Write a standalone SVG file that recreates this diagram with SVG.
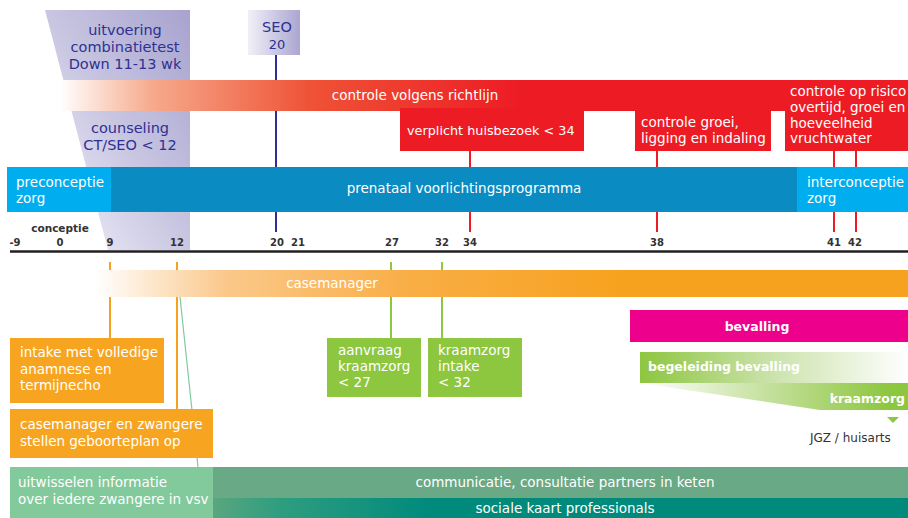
<svg xmlns="http://www.w3.org/2000/svg" width="908" height="518" viewBox="0 0 908 518">
<defs>
<linearGradient id="gPurple" x1="0" y1="1" x2="1" y2="0">
<stop offset="0" stop-color="#f4f3fa"/>
<stop offset="0.5" stop-color="#c9c6e2"/>
<stop offset="1" stop-color="#a7a3cf"/>
</linearGradient>
<linearGradient id="gSeo" x1="0" y1="0" x2="1" y2="0">
<stop offset="0" stop-color="#f1f0f8"/>
<stop offset="1" stop-color="#aaa6d0"/>
</linearGradient>
<linearGradient id="gRed" gradientUnits="userSpaceOnUse" x1="60" y1="0" x2="520" y2="0">
<stop offset="0" stop-color="#ffffff"/>
<stop offset="0.2" stop-color="#f6aa8c"/>
<stop offset="0.54" stop-color="#ef5337"/>
<stop offset="1" stop-color="#ed1c24"/>
</linearGradient>
<linearGradient id="gOrange" gradientUnits="userSpaceOnUse" x1="95" y1="0" x2="620" y2="0">
<stop offset="0" stop-color="#ffffff"/>
<stop offset="0.25" stop-color="#fbc88a"/>
<stop offset="0.6" stop-color="#f9ae45"/>
<stop offset="1" stop-color="#f7a21f"/>
</linearGradient>
<linearGradient id="gBeg" gradientUnits="userSpaceOnUse" x1="640" y1="0" x2="908" y2="0">
<stop offset="0" stop-color="#8dc63f"/>
<stop offset="0.5" stop-color="#cce3ad"/>
<stop offset="1" stop-color="#ffffff"/>
</linearGradient>
<linearGradient id="gKraam" gradientUnits="userSpaceOnUse" x1="640" y1="0" x2="890" y2="0">
<stop offset="0" stop-color="#ffffff"/>
<stop offset="0.5" stop-color="#c6e19f"/>
<stop offset="1" stop-color="#8dc63f"/>
</linearGradient>
<linearGradient id="gTeal" gradientUnits="userSpaceOnUse" x1="213" y1="0" x2="430" y2="0">
<stop offset="0" stop-color="#5aa67f"/>
<stop offset="0.3" stop-color="#2f9e7f"/>
<stop offset="1" stop-color="#008a7c"/>
</linearGradient>
<style>
text{font-family:"DejaVu Sans","Noto Sans",sans-serif;}
.w{fill:#ffffff;font-size:13.5px;}
.p{fill:#2e3192;font-size:14.5px;}
.ax{fill:#333333;font-size:10px;font-weight:bold;text-anchor:middle;}
.b{fill:#ffffff;font-size:12.5px;font-weight:bold;}
.red{stroke:#ed1c24;stroke-width:2;}
.or{stroke:#f7a21f;stroke-width:2;}
.gr{stroke:#8dc63f;stroke-width:2;}
</style>
</defs>

<g id="combinatietest">
<polygon points="45,10 190,10 190,250 108,250" fill="url(#gPurple)"/>
<text class="p" text-anchor="middle" x="125" y="35">uitvoering</text>
<text class="p" text-anchor="middle" x="125" y="52">combinatietest</text>
<text class="p" text-anchor="middle" x="125" y="69">Down 11-13 wk</text>
</g>

<g id="seo">
<rect x="248" y="10" width="52" height="45" fill="url(#gSeo)"/>
<text class="p" text-anchor="middle" x="277" y="32">SEO</text>
<text class="p" text-anchor="middle" x="277" y="49" style="font-size:13px">20</text>
</g>

<g id="connectors">
<line x1="276" y1="55" x2="276" y2="232" stroke="#2e3192" stroke-width="2"/>
<line class="red" x1="470" y1="150" x2="470" y2="168"/>
<line class="red" x1="470" y1="211" x2="470" y2="232"/>
<line class="red" x1="657" y1="150" x2="657" y2="168"/>
<line class="red" x1="657" y1="211" x2="657" y2="232"/>
<line class="red" x1="834" y1="150" x2="834" y2="168"/>
<line class="red" x1="834" y1="211" x2="834" y2="232"/>
<line class="red" x1="856" y1="150" x2="856" y2="168"/>
<line class="red" x1="856" y1="211" x2="856" y2="232"/>
<line class="or" x1="110" y1="262" x2="110" y2="338"/>
<line class="or" x1="177" y1="262" x2="177" y2="409"/>
<line x1="180" y1="297" x2="198" y2="467" stroke="#7fcb9c" stroke-width="1.2"/>
<line class="gr" x1="391" y1="262" x2="391" y2="338"/>
<line class="gr" x1="442" y1="262" x2="442" y2="338"/>
<line x1="10" y1="251.5" x2="908" y2="251.5" stroke="#231f20" stroke-width="2.5"/>
</g>

<g id="controle-richtlijn">
<rect x="60" y="80" width="848" height="31" fill="url(#gRed)"/>
<text class="w" text-anchor="middle" x="415" y="100">controle volgens richtlijn</text>
</g>

<g id="counseling">
<text class="p" text-anchor="middle" x="130" y="133">counseling</text>
<text class="p" text-anchor="middle" x="130" y="150">CT/SEO &lt; 12</text>
</g>

<g id="huisbezoek">
<rect x="400" y="108" width="184" height="43" fill="#ed1c24"/>
<text class="w" x="407" y="135" style="font-size:12.8px">verplicht huisbezoek &lt; 34</text>
</g>

<g id="controle-groei">
<rect x="635" y="110" width="136" height="41" fill="#ed1c24"/>
<text class="w" x="641" y="127">controle groei,</text>
<text class="w" x="641" y="143">ligging en indaling</text>
</g>

<g id="controle-risico">
<rect x="785" y="80" width="123" height="71" fill="#ed1c24"/>
<text class="w" x="790" y="96">controle op risico</text>
<text class="w" x="790" y="111.8">overtijd, groei en</text>
<text class="w" x="790" y="127.6">hoeveelheid</text>
<text class="w" x="790" y="143.4">vruchtwater</text>
</g>

<g id="voorlichting">
<rect x="7" y="167" width="104" height="45" fill="#00aeef"/>
<rect x="111" y="167" width="686" height="45" fill="#0a8bc2"/>
<rect x="797" y="167" width="111" height="45" fill="#00aeef"/>
<text class="w" x="16" y="187">preconceptie</text>
<text class="w" x="16" y="203">zorg</text>
<text class="w" text-anchor="middle" x="464" y="193">prenataal voorlichtingsprogramma</text>
<text class="w" x="807" y="187">interconceptie</text>
<text class="w" x="807" y="203">zorg</text>
</g>

<g id="axis">
<text class="ax" x="60" y="232" style="font-size:10.5px">conceptie</text>
<text class="ax" x="15" y="246">-9</text>
<text class="ax" x="60" y="246">0</text>
<text class="ax" x="110" y="246">9</text>
<text class="ax" x="177" y="246">12</text>
<text class="ax" x="277" y="246">20</text>
<text class="ax" x="298" y="246">21</text>
<text class="ax" x="392" y="246">27</text>
<text class="ax" x="442" y="246">32</text>
<text class="ax" x="470" y="246">34</text>
<text class="ax" x="657" y="246">38</text>
<text class="ax" x="834" y="246">41</text>
<text class="ax" x="855" y="246">42</text>
</g>

<g id="casemanager">
<rect x="95" y="270" width="813" height="27" fill="url(#gOrange)"/>
<text class="w" text-anchor="middle" x="332" y="288">casemanager</text>
</g>

<g id="intake">
<rect x="10" y="338" width="154" height="65" fill="#f7a520"/>
<text class="w" x="20" y="357">intake met volledige</text>
<text class="w" x="20" y="373.5">anamnese en</text>
<text class="w" x="20" y="390">termijnecho</text>
</g>

<g id="geboorteplan">
<rect x="10" y="409" width="203" height="49" fill="#f7a520"/>
<text class="w" x="20" y="429">casemanager en zwangere</text>
<text class="w" x="20" y="446">stellen geboorteplan op</text>
</g>

<g id="aanvraag-kraamzorg">
<rect x="327" y="338" width="94" height="59" fill="#8dc63f"/>
<text class="w" x="338" y="355">aanvraag</text>
<text class="w" x="338" y="371">kraamzorg</text>
<text class="w" x="338" y="387">&lt; 27</text>
</g>

<g id="kraamzorg-intake">
<rect x="428" y="338" width="94" height="59" fill="#8dc63f"/>
<text class="w" x="438" y="355">kraamzorg</text>
<text class="w" x="438" y="371">intake</text>
<text class="w" x="438" y="387">&lt; 32</text>
</g>

<g id="bevalling">
<rect x="630" y="310" width="278" height="32" fill="#ec008c"/>
<text class="b" text-anchor="middle" x="757" y="331">bevalling</text>
</g>

<g id="begeleiding">
<rect x="640" y="352" width="268" height="31" fill="url(#gBeg)"/>
<text class="b" x="648" y="371">begeleiding bevalling</text>
</g>

<g id="kraamzorg">
<polygon points="640,383 908,383 908,410 820,410" fill="url(#gKraam)"/>
<text class="b" text-anchor="end" x="905" y="403">kraamzorg</text>
<polygon points="887,417 899,417 893,423" fill="#8dc63f"/>
</g>

<g id="jgz">
<text x="810" y="442" fill="#333333" font-size="12px">JGZ / huisarts</text>
</g>

<g id="uitwisselen">
<rect x="10" y="467" width="203" height="51" fill="#82c99b"/>
<text class="w" x="18" y="487">uitwisselen informatie</text>
<text class="w" x="18" y="504">over iedere zwangere in vsv</text>
</g>

<g id="communicatie">
<rect x="213" y="467" width="695" height="31" fill="#6aa985"/>
<text class="w" text-anchor="middle" x="565" y="487">communicatie, consultatie partners in keten</text>
</g>

<g id="sociale-kaart">
<rect x="213" y="498" width="695" height="20" fill="url(#gTeal)"/>
<text class="w" text-anchor="middle" x="565" y="513">sociale kaart professionals</text>
</g>
</svg>
